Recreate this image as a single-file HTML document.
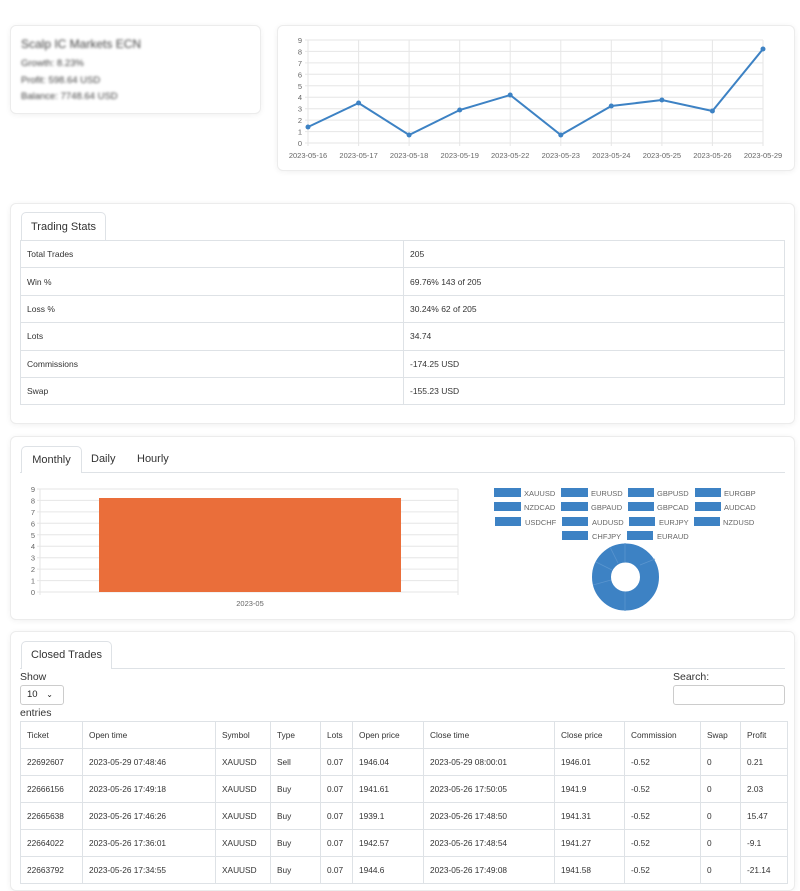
<!DOCTYPE html>
<html><head><meta charset="utf-8"><style>
*{box-sizing:border-box;margin:0;padding:0}
body{width:800px;height:874px;overflow:hidden;background:#fff;font-family:"Liberation Sans",sans-serif;color:#222;position:relative}
.card{position:absolute;background:#fff;border:1px solid #ececec;border-radius:6px;box-shadow:0 1px 6px rgba(0,0,0,.06)}
.a{position:absolute;white-space:nowrap}
.tab{position:absolute;border:1px solid #dee2e6;border-bottom:none;border-radius:5px 5px 0 0;background:#fff;font-size:11px;color:#333;text-align:center}
.hl{position:absolute;height:1px;background:#dee2e6}
table{border-collapse:collapse;position:absolute;font-size:8.5px;color:#333}
td{border:1px solid #dee2e6;padding:0 6px;vertical-align:middle}
.blur{filter:blur(1.3px);color:#444}
</style></head><body>

<div class="card" style="left:10px;top:25px;width:251px;height:89px">
 <div class="a blur" style="left:10px;top:11px;font-size:12px">Scalp IC Markets ECN</div>
 <div class="a blur" style="left:10px;top:32px;font-size:9.5px">Growth: 8.23%</div>
 <div class="a blur" style="left:10px;top:49px;font-size:9.5px">Profit: 598.64 USD</div>
 <div class="a blur" style="left:10px;top:65px;font-size:9.5px">Balance: 7748.64 USD</div>
</div>

<div class="card" style="left:277px;top:25px;width:518px;height:146px"></div>
<svg class="a" style="left:0;top:0" width="800" height="180" font-family="Liberation Sans" font-size="7.5" fill="#666">
 <g stroke="#e6e6e6" stroke-width="1">
  <line x1="305" y1="143" x2="763" y2="143"/><line x1="305" y1="131.6" x2="763" y2="131.6"/><line x1="305" y1="120.1" x2="763" y2="120.1"/><line x1="305" y1="108.7" x2="763" y2="108.7"/><line x1="305" y1="97.2" x2="763" y2="97.2"/><line x1="305" y1="85.8" x2="763" y2="85.8"/><line x1="305" y1="74.3" x2="763" y2="74.3"/><line x1="305" y1="62.9" x2="763" y2="62.9"/><line x1="305" y1="51.4" x2="763" y2="51.4"/><line x1="305" y1="40" x2="763" y2="40"/>
  <line x1="308" y1="40" x2="308" y2="146"/><line x1="358.6" y1="40" x2="358.6" y2="146"/><line x1="409.1" y1="40" x2="409.1" y2="146"/><line x1="459.7" y1="40" x2="459.7" y2="146"/><line x1="510.2" y1="40" x2="510.2" y2="146"/><line x1="560.8" y1="40" x2="560.8" y2="146"/><line x1="611.3" y1="40" x2="611.3" y2="146"/><line x1="661.9" y1="40" x2="661.9" y2="146"/><line x1="712.4" y1="40" x2="712.4" y2="146"/><line x1="763" y1="40" x2="763" y2="146"/>
 </g>
 <g text-anchor="end"><text x="302" y="146">0</text><text x="302" y="134.6">1</text><text x="302" y="123.1">2</text><text x="302" y="111.7">3</text><text x="302" y="100.2">4</text><text x="302" y="88.8">5</text><text x="302" y="77.3">6</text><text x="302" y="65.9">7</text><text x="302" y="54.4">8</text><text x="302" y="43">9</text></g>
 <g text-anchor="middle"><text x="308" y="158">2023-05-16</text><text x="358.6" y="158">2023-05-17</text><text x="409.1" y="158">2023-05-18</text><text x="459.7" y="158">2023-05-19</text><text x="510.2" y="158">2023-05-22</text><text x="560.8" y="158">2023-05-23</text><text x="611.3" y="158">2023-05-24</text><text x="661.9" y="158">2023-05-25</text><text x="712.4" y="158">2023-05-26</text><text x="763" y="158">2023-05-29</text></g>
 <polyline fill="none" stroke="#3d82c4" stroke-width="2" points="308,127 358.6,103 409.1,135 459.7,110 510.2,95 560.8,135 611.3,106 661.9,100 712.4,111 763,49"/>
 <g fill="#3d82c4"><circle cx="308" cy="127" r="2.5"/><circle cx="358.6" cy="103" r="2.5"/><circle cx="409.1" cy="135" r="2.5"/><circle cx="459.7" cy="110" r="2.5"/><circle cx="510.2" cy="95" r="2.5"/><circle cx="560.8" cy="135" r="2.5"/><circle cx="611.3" cy="106" r="2.5"/><circle cx="661.9" cy="100" r="2.5"/><circle cx="712.4" cy="111" r="2.5"/><circle cx="763" cy="49" r="2.5"/></g>
</svg>

<div class="card" style="left:10px;top:203px;width:785px;height:221px"></div>
<div class="tab" style="left:21px;top:212px;width:85px;height:29px;line-height:28px">Trading Stats</div>
<table style="left:20px;top:240px;width:765px">
 <tr style="height:27.4px"><td style="width:383px">Total Trades</td><td>205</td></tr>
 <tr style="height:27.4px"><td>Win %</td><td>69.76% 143 of 205</td></tr>
 <tr style="height:27.4px"><td>Loss %</td><td>30.24% 62 of 205</td></tr>
 <tr style="height:27.4px"><td>Lots</td><td>34.74</td></tr>
 <tr style="height:27.4px"><td>Commissions</td><td>-174.25 USD</td></tr>
 <tr style="height:27.4px"><td>Swap</td><td>-155.23 USD</td></tr>
</table>

<div class="card" style="left:10px;top:436px;width:785px;height:184px"></div>
<div class="hl" style="left:20px;top:472px;width:765px"></div>
<div class="tab" style="left:21px;top:446px;width:61px;height:27px;line-height:26px">Monthly</div>
<div class="a" style="left:91px;top:453px;font-size:11px;color:#333">Daily</div>
<div class="a" style="left:137px;top:453px;font-size:11px;color:#333">Hourly</div>
<svg class="a" style="left:0;top:470px" width="800" height="150" font-family="Liberation Sans" font-size="7.5" fill="#666">
 <g stroke="#e6e6e6"><line x1="37" y1="122" x2="458" y2="122"/><line x1="37" y1="110.6" x2="458" y2="110.6"/><line x1="37" y1="99.1" x2="458" y2="99.1"/><line x1="37" y1="87.7" x2="458" y2="87.7"/><line x1="37" y1="76.2" x2="458" y2="76.2"/><line x1="37" y1="64.8" x2="458" y2="64.8"/><line x1="37" y1="53.3" x2="458" y2="53.3"/><line x1="37" y1="41.9" x2="458" y2="41.9"/><line x1="37" y1="30.4" x2="458" y2="30.4"/><line x1="37" y1="19" x2="458" y2="19"/><line x1="40" y1="19" x2="40" y2="125"/><line x1="458" y1="19" x2="458" y2="125"/></g>
 <g text-anchor="end"><text x="35" y="125">0</text><text x="35" y="113.6">1</text><text x="35" y="102.1">2</text><text x="35" y="90.7">3</text><text x="35" y="79.2">4</text><text x="35" y="67.8">5</text><text x="35" y="56.3">6</text><text x="35" y="44.9">7</text><text x="35" y="33.4">8</text><text x="35" y="22">9</text></g>
 <rect x="99" y="28" width="302" height="94" fill="#ea6e3a"/>
 <text x="250" y="136" text-anchor="middle">2023-05</text>
 <g fill="#3d82c4">
  <rect x="494" y="18" width="27" height="9"/><rect x="561" y="18" width="27" height="9"/><rect x="628" y="18" width="26" height="9"/><rect x="695" y="18" width="26" height="9"/>
  <rect x="494" y="32" width="27" height="9"/><rect x="561" y="32" width="27" height="9"/><rect x="628" y="32" width="26" height="9"/><rect x="695" y="32" width="26" height="9"/>
  <rect x="495" y="47" width="26" height="9"/><rect x="562" y="47" width="26" height="9"/><rect x="629" y="47" width="26" height="9"/><rect x="694" y="47" width="26" height="9"/>
  <rect x="562" y="61" width="26" height="9"/><rect x="627" y="61" width="26" height="9"/>
  <circle cx="625.5" cy="107" r="24" fill="none" stroke="#3d82c4" stroke-width="19"/>
 </g>
 <g stroke="#5a95cf" stroke-width="0.8"><line x1="625" y1="73" x2="625" y2="92"/><line x1="640" y1="95" x2="655" y2="89"/><line x1="625" y1="122" x2="625" y2="141"/><line x1="611" y1="110" x2="593" y2="115"/><line x1="612" y1="100" x2="596" y2="92"/><line x1="618" y1="93" x2="610" y2="77"/></g>
 <g font-size="7.5"><text x="524" y="26">XAUUSD</text><text x="591" y="26">EURUSD</text><text x="657" y="26">GBPUSD</text><text x="724" y="26">EURGBP</text>
 <text x="524" y="40">NZDCAD</text><text x="591" y="40">GBPAUD</text><text x="657" y="40">GBPCAD</text><text x="724" y="40">AUDCAD</text>
 <text x="525" y="55">USDCHF</text><text x="592" y="55">AUDUSD</text><text x="659" y="55">EURJPY</text><text x="723" y="55">NZDUSD</text>
 <text x="592" y="69">CHFJPY</text><text x="657" y="69">EURAUD</text></g>
</svg>

<div class="card" style="left:10px;top:631px;width:785px;height:260px"></div>
<div class="hl" style="left:20px;top:668px;width:765px"></div>
<div class="tab" style="left:21px;top:641px;width:91px;height:28px;line-height:27px">Closed Trades</div>
<div class="a" style="left:20px;top:671px;font-size:10.5px;color:#333">Show</div>
<div class="a" style="left:20px;top:685px;width:44px;height:20px;border:1px solid #ccc;border-radius:3px;font-size:9.5px;line-height:18px;padding-left:6px">10 <span style="margin-left:6px;font-size:8px">&#8964;</span></div>
<div class="a" style="left:20px;top:707px;font-size:10.5px;color:#333">entries</div>
<div class="a" style="left:673px;top:671px;font-size:10.5px;color:#333">Search:</div>
<div class="a" style="left:673px;top:685px;width:112px;height:20px;border:1px solid #ccc;border-radius:3px"></div>
<table style="left:20px;top:721px;width:768px;font-size:8.3px">
 <tr style="height:27px"><td style="width:62px">Ticket</td><td style="width:133px">Open time</td><td style="width:55px">Symbol</td><td style="width:50px">Type</td><td style="width:32px">Lots</td><td style="width:71px">Open price</td><td style="width:131px">Close time</td><td style="width:70px">Close price</td><td style="width:76px">Commission</td><td style="width:40px">Swap</td><td>Profit</td></tr>
 <tr style="height:27px"><td>22692607</td><td>2023-05-29 07:48:46</td><td>XAUUSD</td><td>Sell</td><td>0.07</td><td>1946.04</td><td>2023-05-29 08:00:01</td><td>1946.01</td><td>-0.52</td><td>0</td><td>0.21</td></tr>
 <tr style="height:27px"><td>22666156</td><td>2023-05-26 17:49:18</td><td>XAUUSD</td><td>Buy</td><td>0.07</td><td>1941.61</td><td>2023-05-26 17:50:05</td><td>1941.9</td><td>-0.52</td><td>0</td><td>2.03</td></tr>
 <tr style="height:27px"><td>22665638</td><td>2023-05-26 17:46:26</td><td>XAUUSD</td><td>Buy</td><td>0.07</td><td>1939.1</td><td>2023-05-26 17:48:50</td><td>1941.31</td><td>-0.52</td><td>0</td><td>15.47</td></tr>
 <tr style="height:27px"><td>22664022</td><td>2023-05-26 17:36:01</td><td>XAUUSD</td><td>Buy</td><td>0.07</td><td>1942.57</td><td>2023-05-26 17:48:54</td><td>1941.27</td><td>-0.52</td><td>0</td><td>-9.1</td></tr>
 <tr style="height:27px"><td>22663792</td><td>2023-05-26 17:34:55</td><td>XAUUSD</td><td>Buy</td><td>0.07</td><td>1944.6</td><td>2023-05-26 17:49:08</td><td>1941.58</td><td>-0.52</td><td>0</td><td>-21.14</td></tr>
</table>
</body></html>
